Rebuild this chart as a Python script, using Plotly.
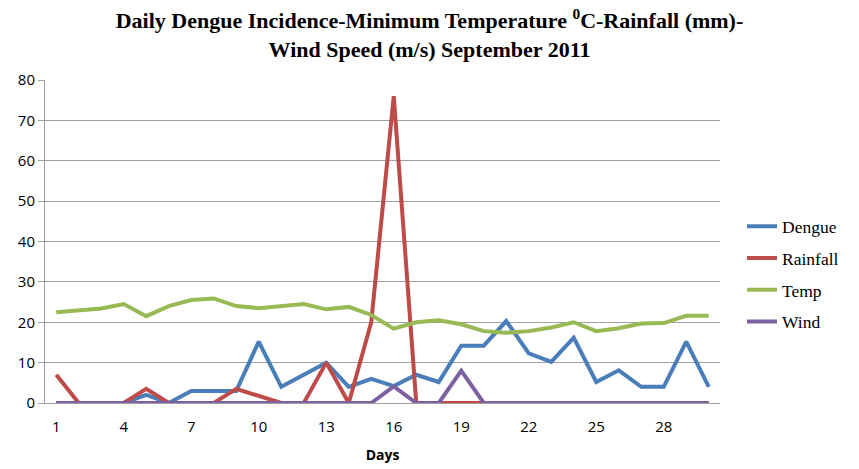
import plotly.graph_objects as go

days = list(range(1, 31))
dengue = [0, 0, 0, 0, 2, 0, 3, 3, 3, 15.2, 4, 7, 10, 4, 6, 4.2, 7, 5.2, 14.2, 14.2, 20.3, 12.3, 10.2, 16.2, 5.2, 8.1, 4, 4, 15.2, 4]
rainfall = [7, 0, 0, 0, 3.5, 0, 0, 0, 3.5, 1.8, 0, 0, 10, 0, 20, 76, 0, 0, 0, 0, 0, 0, 0, 0, 0, 0, 0, 0, 0, 0]
temp = [22.5, 23, 23.4, 24.5, 21.5, 24, 25.5, 25.9, 24, 23.5, 24, 24.5, 23.2, 23.8, 21.8, 18.4, 20, 20.5, 19.5, 17.8, 17.4, 17.8, 18.7, 20, 17.8, 18.5, 19.7, 19.8, 21.6, 21.6]
wind = [0, 0, 0, 0, 0, 0, 0, 0, 0, 0, 0, 0, 0, 0, 0, 4.1, 0, 0, 8, 0, 0, 0, 0, 0, 0, 0, 0, 0, 0, 0]

xtick_vals = [1, 4, 7, 10, 13, 16, 19, 22, 25, 28]
ytick_vals = [0, 10, 20, 30, 40, 50, 60, 70, 80]

series = [
    ("Dengue", dengue, "#4A7EBB"),
    ("Rainfall", rainfall, "#BE4B48"),
    ("Temp", temp, "#98B954"),
    ("Wind", wind, "#7D60A0"),
]

fig = go.Figure()
for name, vals, color in series:
    fig.add_trace(go.Scatter(x=days, y=vals, mode="lines", name=name, legendgroup=name,
                             line=dict(color=color, width=4)))

fig.update_layout(
    width=859, height=469,
    margin=dict(l=45, r=139, t=80, b=66, autoexpand=False),
    paper_bgcolor="white", plot_bgcolor="white",
    title=dict(
        text="Daily Dengue Incidence-Minimum Temperature <sup>0</sup>C-Rainfall (mm)-<br>Wind Speed (m/s) September 2011",
        x=0.5, xanchor="center", xref="container",
        y=1 - 28 / 469, yref="container", yanchor="middle",
        font=dict(family="Liberation Serif", size=22, color="black", weight="bold"),
    ),
    legend=dict(
        x=742 / 859, xref="container", xanchor="left",
        y=0.40, yanchor="middle",
        font=dict(family="Liberation Serif", size=17.5, color="black"),
        bgcolor="rgba(0,0,0,0)", tracegroupgap=6, traceorder="grouped",
    ),
    font=dict(family="Open Sans", color="black"),
)
fig.update_xaxes(
    range=[0.5, 30.5], tickmode="array", tickvals=xtick_vals,
    showgrid=False, showline=True, linecolor="#A0A0A0", linewidth=1,
    ticks="outside", ticklen=10, tickcolor="rgba(0,0,0,0)",
    tickfont=dict(family="Open Sans", size=15, color="black"),
    title=dict(text="<b>Days</b>", font=dict(family="Open Sans", size=14, color="black"), standoff=15),
    zeroline=False, automargin=False,
)
fig.update_yaxes(
    range=[0, 80], tickmode="array", tickvals=ytick_vals,
    showgrid=True, gridcolor="#A0A0A0", gridwidth=1,
    showline=True, linecolor="#A0A0A0", linewidth=1,
    ticks="outside", ticklen=6, tickcolor="#A0A0A0",
    tickfont=dict(family="Open Sans", size=15, color="black"),
    zeroline=False, automargin=False,
)

fig.write_html("out.html")
